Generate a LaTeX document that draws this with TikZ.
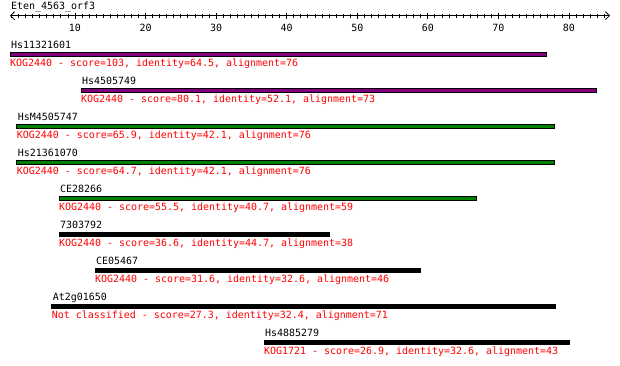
\documentclass[tikz,border=0pt]{standalone}
\usepackage{fontspec}
\newfontfamily\monofnt{DejaVu Sans Mono}
\usetikzlibrary{arrows.meta}
\definecolor{kpurple}{HTML}{800080}
\definecolor{kgreen}{HTML}{008000}
\begin{document}
\begin{tikzpicture}[x=1bp,y=-1bp,
  lbl/.style={anchor=base west,inner sep=0,font=\monofnt\fontsize{10}{12}\selectfont},
  hit/.style={lbl,text=red},
  hitbar/.style={draw=black,line width=1bp},
  tk/.style={line width=0.8bp}]
\useasboundingbox[fill=white] (0,0) rectangle (620,365);
\node[lbl] (title) at (11,9.5) {Eten\_4563\_orf3};
\coordinate (axl) at (10,15.7);
\coordinate (axr) at (610,15.7);
\draw[line width=0.8bp,{Straight Barb[length=4bp,width=8bp]}-{Straight Barb[length=4bp,width=8bp]}] (axl) -- (axr);
\foreach \u in {1,...,85} { \draw[tk] ({4.4+7.057*\u},14) -- ({4.4+7.057*\u},17.7); }
\foreach \u in {10,20,...,80} {
  \draw[tk] ({4.4+7.057*\u},12.5) -- ({4.4+7.057*\u},19);
  \node[lbl,anchor=base] (t\u) at ({4.4+7.057*\u},31) {\u};
}
% 1
\draw[hitbar,fill=kpurple] (10,52.3) rectangle (546.7,56.8);
\node[lbl] (n1) at (11,48.5) {Hs11321601};
\node[hit] (h1) at (10,66.3) {KOG2440 - score=103, identity=64.5, alignment=76};
% 2
\draw[hitbar,fill=kpurple] (81,88.3) rectangle (596.7,92.8);
\node[lbl] (n2) at (82,84.5) {Hs4505749};
\node[hit] (h2) at (81,102.3) {KOG2440 - score=80.1, identity=52.1, alignment=73};
% 3
\draw[hitbar,fill=kgreen] (16.7,124.3) rectangle (554.7,128.8);
\node[lbl] (n3) at (17.7,120.5) {HsM4505747};
\node[hit] (h3) at (16.7,138.3) {KOG2440 - score=65.9, identity=42.1, alignment=76};
% 4
\draw[hitbar,fill=kgreen] (16.7,160.3) rectangle (554.7,164.8);
\node[lbl] (n4) at (17.7,156.5) {Hs21361070};
\node[hit] (h4) at (16.7,174.3) {KOG2440 - score=64.7, identity=42.1, alignment=76};
% 5
\draw[hitbar,fill=kgreen] (59,196.3) rectangle (476.7,200.8);
\node[lbl] (n5) at (60,192.5) {CE28266};
\node[hit] (h5) at (59,210.3) {KOG2440 - score=55.5, identity=40.7, alignment=59};
% 6
\draw[hitbar,fill=black] (59,232.3) rectangle (329,236.8);
\node[lbl] (n6) at (60,228.5) {7303792};
\node[hit] (h6) at (59,246.3) {KOG2440 - score=36.6, identity=44.7, alignment=38};
% 7
\draw[hitbar,fill=black] (95,268.3) rectangle (420,272.8);
\node[lbl] (n7) at (96,264.5) {CE05467};
\node[hit] (h7) at (95,282.3) {KOG2440 - score=31.6, identity=32.6, alignment=46};
% 8
\draw[hitbar,fill=black] (51.7,304.3) rectangle (555,308.8);
\node[lbl] (n8) at (52.7,300.5) {At2g01650};
\node[hit] (h8) at (51.7,318.3) {Not classified - score=27.3, identity=32.4, alignment=71};
% 9
\draw[hitbar,fill=black] (264,340.3) rectangle (569,344.8);
\node[lbl] (n9) at (265,336.5) {Hs4885279};
\node[hit] (h9) at (264,354.3) {KOG1721 - score=26.9, identity=32.6, alignment=43};
\end{tikzpicture}
\end{document}
